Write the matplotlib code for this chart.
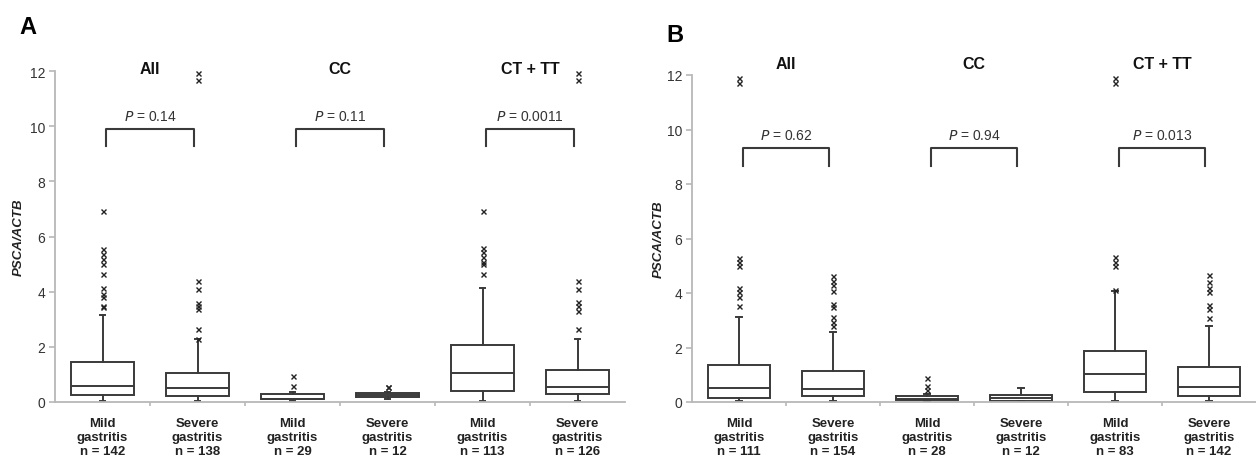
import matplotlib
matplotlib.use("Agg")
import matplotlib.pyplot as plt

plt.rcParams['font.family'] = ['Liberation Sans', 'DejaVu Sans']

# ---------------- data ----------------
groups = ["All", "CC", "CT + TT"]
cat_names = ["Mild\ngastritis", "Severe\ngastritis"] * 3

# Panel A
a_n = [142, 138, 29, 12, 113, 126]
a_q1 = [0.25, 0.23, 0.10, 0.18, 0.39, 0.28]
a_med = [0.59, 0.51, 0.12, 0.25, 1.05, 0.55]
a_q3 = [1.46, 1.04, 0.29, 0.31, 2.08, 1.15]
a_whislo = [0.02, 0.02, 0.03, 0.10, 0.02, 0.02]
a_whishi = [3.15, 2.28, 0.35, 0.35, 4.15, 2.30]
a_fliers = [
    [6.92, 5.54, 5.36, 5.20, 5.00, 4.64, 4.12, 3.90, 3.80, 3.49, 3.43],
    [11.92, 11.67, 4.39, 4.09, 3.59, 3.49, 3.37, 2.64, 2.30],
    [0.93, 0.59],
    [0.53, 0.55],
    [6.92, 5.57, 5.42, 5.24, 5.06, 5.00, 4.64],
    [11.92, 11.67, 4.39, 4.09, 3.61, 3.47, 3.31, 2.64],
]
a_pvals = ["0.14", "0.11", "0.0011"]

# Panel B
b_n = [111, 154, 28, 12, 83, 142]
b_q1 = [0.15, 0.21, 0.08, 0.05, 0.38, 0.23]
b_med = [0.51, 0.48, 0.10, 0.15, 1.03, 0.56]
b_q3 = [1.37, 1.15, 0.23, 0.27, 1.88, 1.30]
b_whislo = [0.02, 0.02, 0.03, 0.02, 0.02, 0.02]
b_whishi = [3.13, 2.58, 0.30, 0.50, 4.06, 2.80]
b_fliers = [
    [11.90, 11.70, 5.27, 5.15, 4.98, 4.17, 4.02, 3.84, 3.51],
    [4.63, 4.45, 4.29, 4.08, 3.60, 3.47, 3.11, 2.95, 2.78],
    [0.87, 0.58, 0.45],
    [],
    [11.90, 11.70, 5.31, 5.13, 4.98, 4.12],
    [4.66, 4.39, 4.17, 4.02, 3.56, 3.41, 3.07],
]
b_pvals = ["0.62", "0.94", "0.013"]

DARK = "#3a3a3a"
GREY = "#b8b8b8"

fig = plt.figure(figsize=(12.56, 4.64), dpi=100)


def panel(rect, letter, letter_xy, n, q1, med, q3, wlo, whi, fl, pvals,
          title_y, p_y, br_top, br_bot, ylab_x):
    ax = fig.add_axes(rect)
    stats = []
    for i in range(len(n)):
        stats.append(dict(q1=q1[i], med=med[i], q3=q3[i], whislo=wlo[i],
                          whishi=whi[i], fliers=fl[i]))
    pos = list(range(len(n)))
    ax.bxp(stats, positions=pos, widths=0.67, patch_artist=True,
           capwidths=0.06,
           boxprops=dict(facecolor="white", edgecolor=DARK, linewidth=1.4),
           medianprops=dict(color=DARK, linewidth=1.4),
           whiskerprops=dict(color=DARK, linewidth=1.4),
           capprops=dict(color=DARK, linewidth=1.4),
           flierprops=dict(marker="x", markersize=3.6, markeredgecolor="#222222",
                           markeredgewidth=1.0, linestyle="none"))
    ax.set_xlim(-0.5, 5.5)
    ax.set_ylim(0, 12)
    for s in ["top", "right"]:
        ax.spines[s].set_visible(False)
    for s in ["left", "bottom"]:
        ax.spines[s].set_color(GREY)
        ax.spines[s].set_linewidth(1.3)
    ax.set_yticks(range(0, 13, 2))
    ax.tick_params(axis="y", colors=GREY, labelcolor="#333333", length=4,
                   width=1.2, labelsize=10, pad=3)
    ax.set_xticks([0.5, 1.5, 2.5, 3.5, 4.5])
    ax.set_xticklabels([])
    ax.tick_params(axis="x", which="major", colors=GREY, length=3, width=1.2)
    ax.set_xticks(pos, minor=True)
    ax.set_xticklabels([f"{c}\nn = {k}" for c, k in zip(cat_names, n)],
                       minor=True, fontsize=9.5, fontweight="bold",
                       color="#222222", linespacing=1.2)
    ax.tick_params(axis="x", which="minor", length=0, pad=11)
    ax.set_ylabel("PSCA/ACTB", fontsize=9.5, fontweight="bold",
                  fontstyle="italic", color="#222222")
    ax.yaxis.set_label_coords(ylab_x, 0.5)

    for g, name in enumerate(groups):
        c0, c1 = 2 * g, 2 * g + 1
        xm = (c0 + c1) / 2
        ax.text(xm, title_y, name, ha="center", va="center", fontsize=11.5,
                fontweight="bold", color="#111111", clip_on=False)
        ax.plot([c0 + 0.04, c0 + 0.04, c1 - 0.04, c1 - 0.04],
                [br_bot, br_top, br_top, br_bot], color=DARK, lw=1.5,
                clip_on=False)
        ax.text(xm, p_y, r"$\it{P}$" + f" = {pvals[g]}", ha="center",
                va="center", fontsize=10, color="#333333")
    fig.text(letter_xy[0], letter_xy[1], letter, fontsize=17,
             fontweight="bold", ha="center", va="center")
    return ax


panel([55 / 1256, 61 / 464, 570 / 1256, 331 / 464], "A",
      (28 / 1256, 1 - 28 / 464), a_n, a_q1, a_med, a_q3, a_whislo, a_whishi,
      a_fliers, a_pvals, 12.1, 10.36, 9.89, 9.27, -0.053)
panel([692 / 1256, 61 / 464, 564 / 1256, 327 / 464], "B",
      (675 / 1256, 1 - 35 / 464), b_n, b_q1, b_med, b_q3, b_whislo, b_whishi,
      b_fliers, b_pvals, 12.44, 9.8, 9.32, 8.66, -0.048)

fig.savefig("out.png", dpi=100)
